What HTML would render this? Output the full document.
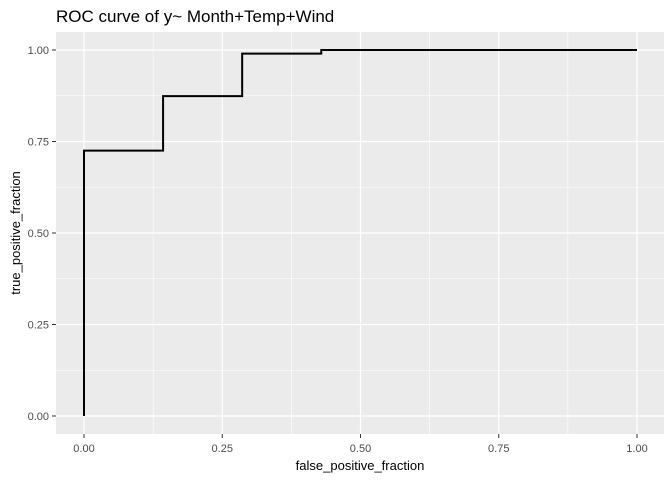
<!DOCTYPE html>
<html><head><meta charset="utf-8"><style>body{margin:0;background:#fff}svg{display:block;font-family:"Liberation Sans",Arial,sans-serif}</style></head>
<body>
<svg id="chart" width="672" height="480">
<rect x="0" y="0" width="672" height="480" fill="#fff"/>
<text x="56" y="22" font-size="17" fill="#000">ROC curve of y~ Month+Temp+Wind</text>
<rect x="56" y="32" width="608" height="402" fill="#ebebeb"/>
<g id="grid"></g><g id="ticks"></g>
<path id="curve" fill="none" stroke="#000" stroke-width="2"/>
<text x="360" y="470" font-size="13" text-anchor="middle" fill="#000">false_positive_fraction</text>
<text transform="translate(20,233) rotate(-90)" font-size="13" text-anchor="middle" fill="#000">true_positive_fraction</text>
</svg>
<script>
const fpr=[0,0,0.143,0.143,0.286,0.286,0.429,0.429,1];
const tpr=[0,0.725,0.725,0.874,0.874,0.99,0.99,1,1];
const ticks=[0,0.25,0.5,0.75,1];
const tickLabels=["0.00","0.25","0.50","0.75","1.00"];
const X=v=>84+v*553, Y=v=>416-v*366;
const ns="http://www.w3.org/2000/svg";
const g=document.getElementById('grid'), t=document.getElementById('ticks');
function mk(p,tag,a){const e=document.createElementNS(ns,tag);for(const k in a)e.setAttribute(k,a[k]);p.appendChild(e);return e;}
for(let i=0;i<ticks.length-1;i++){const m=(ticks[i]+ticks[i+1])/2;
 let l=mk(g,'line',{x1:X(m),x2:X(m),y1:32,y2:434,stroke:'#fff','stroke-width':0.6});
 
 
 l=mk(g,'line',{x1:56,x2:664,y1:Y(m),y2:Y(m),stroke:'#fff','stroke-width':0.6});
 
 }
ticks.forEach((v,i)=>{
 let l=mk(g,'line',{x1:X(v),x2:X(v),y1:32,y2:434,stroke:'#fff','stroke-width':1.2});
 
 
 l=mk(g,'line',{x1:56,x2:664,y1:Y(v),y2:Y(v),stroke:'#fff','stroke-width':1.2});
 
 
 mk(t,'line',{x1:X(v),x2:X(v),y1:434,y2:438,stroke:'#333','stroke-width':1});
 mk(t,'line',{x1:52,x2:56,y1:Y(v),y2:Y(v),stroke:'#333','stroke-width':1});
 let a=mk(t,'text',{x:X(v),y:452,'font-size':11,'text-anchor':'middle',fill:'#4d4d4d'});a.textContent=tickLabels[i];
 
 
 a=mk(t,'text',{x:49,y:Y(v)+4,'font-size':11,'text-anchor':'end',fill:'#4d4d4d'});a.textContent=tickLabels[i];
 
 
});
document.getElementById('curve').setAttribute('d',fpr.map((v,i)=>(i?'L':'M')+X(v)+','+Y(tpr[i])).join(''));
</script>
</body></html>
